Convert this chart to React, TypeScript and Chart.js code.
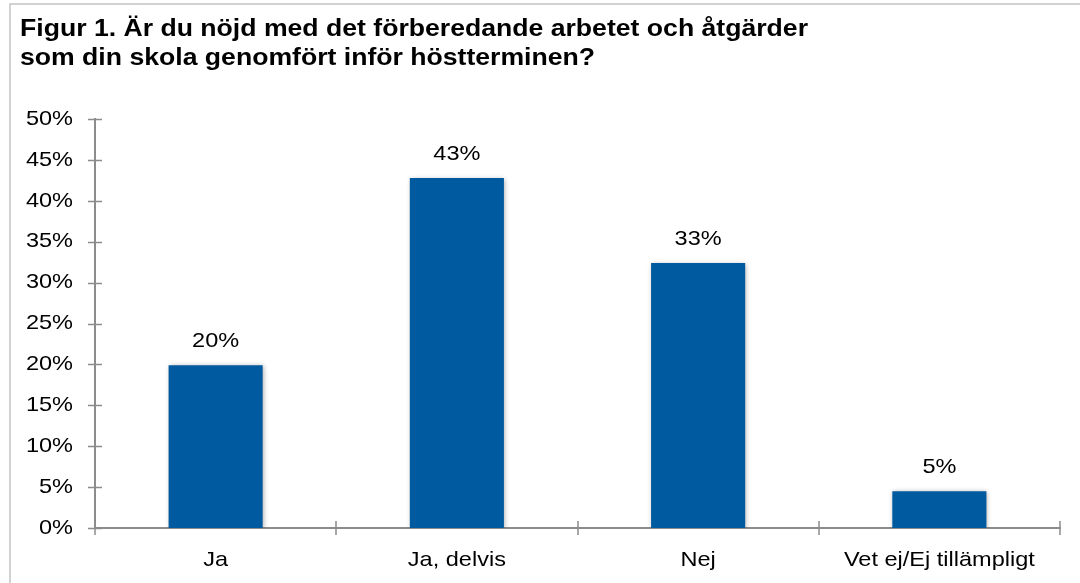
import React, { useEffect, useRef } from "react";
import { Chart, registerables } from "chart.js";

Chart.register(...registerables);

const titleLines = [
  "Figur 1. Är du nöjd med det förberedande arbetet och åtgärder",
  "som din skola genomfört inför höstterminen?",
];
const categories = ["Ja", "Ja, delvis", "Nej", "Vet ej/Ej tillämpligt"];
const values = [19.9, 42.8, 32.4, 4.5];
const valueLabels = ["20%", "43%", "33%", "5%"];
const yTicks = [0, 5, 10, 15, 20, 25, 30, 35, 40, 45, 50];

const FONT = "'Liberation Sans', Arial, sans-serif";
const AXIS_COLOR = "#8c8c8c";
const BAR_COLOR = "#005aa0";
const TEXT_STRETCH = 1.12;
const TITLE_WIDTH = 788;

function stretchedText(ctx: any, text: string, x: number, y: number, align: string, sx: number) {
  ctx.save();
  ctx.translate(x, y);
  ctx.scale(sx, 1);
  ctx.textAlign = align;
  ctx.fillText(text, 0, 0);
  ctx.restore();
}

const framePlugin = {
  id: "frame",
  beforeDraw(chart: any) {
    const { ctx, width, height } = chart;
    ctx.save();
    ctx.fillStyle = "#ffffff";
    ctx.fillRect(0, 0, width, height);
    ctx.strokeStyle = "#c4c4c4";
    ctx.lineWidth = 1.5;
    ctx.beginPath();
    ctx.moveTo(10, height);
    ctx.lineTo(10, 4);
    ctx.lineTo(width, 4);
    ctx.stroke();
    ctx.fillStyle = "#000000";
    ctx.font = `bold 23px ${FONT}`;
    ctx.textBaseline = "alphabetic";
    const sx = TITLE_WIDTH / ctx.measureText(titleLines[0]).width;
    titleLines.forEach((t, i) => stretchedText(ctx, t, 20, 36 + i * 29, "left", sx));
    ctx.restore();
  },
};

const axisTextPlugin = {
  id: "axisText",
  afterDraw(chart: any) {
    const { ctx } = chart;
    const x = chart.scales.x;
    const y = chart.scales.y;
    ctx.save();
    ctx.strokeStyle = AXIS_COLOR;
    ctx.lineWidth = 1.5;
    ctx.beginPath();
    yTicks.forEach((v) => {
      const py = Math.round(y.getPixelForValue(v)) + 0.5;
      ctx.moveTo(x.left - 7, py);
      ctx.lineTo(x.left + 7, py);
    });
    const n = categories.length;
    for (let i = 0; i <= n; i++) {
      const px = Math.round(x.left + (i * (x.right - x.left)) / n);
      ctx.moveTo(px, y.bottom - 7);
      ctx.lineTo(px, y.bottom + 7);
    }
    ctx.stroke();

    ctx.fillStyle = "#000000";
    ctx.font = `21px ${FONT}`;
    ctx.textBaseline = "middle";
    yTicks.forEach((v) => {
      stretchedText(ctx, `${v}%`, x.left - 22, y.getPixelForValue(v), "right", TEXT_STRETCH);
    });
    ctx.textBaseline = "alphabetic";
    categories.forEach((c, i) => {
      stretchedText(ctx, c, x.getPixelForValue(i), y.bottom + 38, "center", TEXT_STRETCH);
    });
    ctx.restore();
  },
};

const shadowPlugin = {
  id: "barShadow",
  beforeDatasetDraw(chart: any) {
    const ctx = chart.ctx;
    ctx.save();
    ctx.shadowColor = "rgba(0,0,0,0.35)";
    ctx.shadowBlur = 5;
    ctx.shadowOffsetX = 1;
    ctx.shadowOffsetY = 1;
  },
  afterDatasetDraw(chart: any) {
    chart.ctx.restore();
  },
};

const labelPlugin = {
  id: "valueLabels",
  afterDatasetsDraw(chart: any) {
    const { ctx } = chart;
    const meta = chart.getDatasetMeta(0);
    ctx.save();
    ctx.fillStyle = "#000000";
    ctx.font = `21px ${FONT}`;
    ctx.textBaseline = "alphabetic";
    meta.data.forEach((bar: any, i: number) => {
      stretchedText(ctx, valueLabels[i], bar.x, bar.y - 18, "center", TEXT_STRETCH);
    });
    ctx.restore();
  },
};

export default function App() {
  const ref = useRef<HTMLCanvasElement | null>(null);
  useEffect(() => {
    if (!ref.current) return;
    const chart = new Chart(ref.current, {
      type: "bar",
      data: {
        labels: categories,
        datasets: [
          {
            data: values,
            backgroundColor: BAR_COLOR,
            borderWidth: 0,
            categoryPercentage: 1,
            barPercentage: 0.39,
          },
        ],
      },
      options: {
        animation: false,
        responsive: false,
        devicePixelRatio: 1,
        layout: { padding: { top: 119, right: 20, left: 0, bottom: 0 } },
        plugins: {
          legend: { display: false },
          title: { display: false },
          tooltip: { enabled: false },
        },
        scales: {
          x: {
            offset: true,
            grid: { display: false, offset: true },
            border: { display: true, color: AXIS_COLOR, width: 2 },
            ticks: { display: false, autoSkip: false },
            afterFit(scale: any) {
              scale.height = 55;
            },
          },
          y: {
            min: 0,
            max: 50,
            grid: { display: false },
            border: { display: true, color: AXIS_COLOR, width: 2 },
            ticks: { display: false, stepSize: 5 },
            afterFit(scale: any) {
              scale.width = 95;
            },
          },
        },
      },
      plugins: [framePlugin, shadowPlugin, labelPlugin, axisTextPlugin],
    });
    return () => chart.destroy();
  }, []);
  return (
    <div style={{ position: "absolute", left: 0, top: 0, width: 1080, height: 583 }}>
      <canvas ref={ref} width={1080} height={583} style={{ display: "block" }} />
    </div>
  );
}
